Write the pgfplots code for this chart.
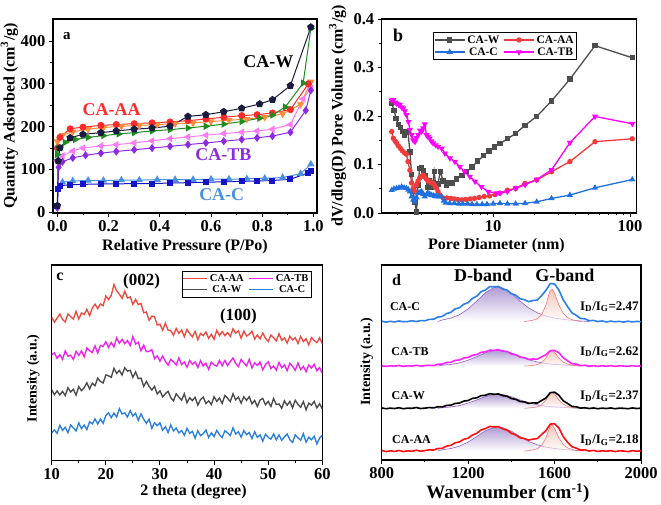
\documentclass[border=0pt]{standalone}
\usepackage{pgfplots}
\pgfplotsset{compat=1.18}
\usepackage{pgfplotstable}
\usepackage{fontspec}
\setmainfont{Liberation Serif}

\definecolor{awnavy}{HTML}{1B1B40}
\definecolor{awgreen}{HTML}{1E8C1E}
\definecolor{aared}{HTML}{FF2A2A}
\definecolor{aaorange}{HTML}{FF8C3C}
\definecolor{tbpurple}{HTML}{8B2BE2}
\definecolor{tbpink}{HTML}{FF7AF5}
\definecolor{cdblue}{HTML}{1515C8}
\definecolor{clblue}{HTML}{4A90E2}
\definecolor{bgray}{HTML}{4D4D4D}
\definecolor{bred}{HTML}{F03C3C}
\definecolor{bblue}{HTML}{2070E0}
\definecolor{bmag}{HTML}{FF00FF}
\definecolor{cred}{HTML}{F04A40}
\definecolor{cmag}{HTML}{F020F0}
\definecolor{cgray}{HTML}{4A4A4A}
\definecolor{cblue}{HTML}{2A7FE0}
\definecolor{dblue}{HTML}{2A7FE8}
\definecolor{dmag}{HTML}{FF20FF}
\definecolor{dred}{HTML}{FF1010}
\definecolor{dfit}{HTML}{9060C0}
\definecolor{dfill}{HTML}{7B5BB5}
\definecolor{gfit}{HTML}{F07878}
\definecolor{gfill}{HTML}{F0A090}

\newcommand{\ft}[1]{\fontsize{#1}{#1}\selectfont\bfseries}

\pgfplotsset{myax/.style={scale only axis, anchor=south west,
  axis line style={line width=1.1pt}, tick align=outside, tick pos=left,
  major tick length=4pt, minor tick length=2.5pt,
  tick style={black, line width=0.9pt},
  /pgf/number format/assume math mode=true,
  /pgf/number format/set thousands separator={},
  tick label style={font=\ft{16.5}},
  label style={font=\ft{16}}}}

\pgfplotstableread{
x r m g b
10.0 73.2 54.1 36.3 14.2
10.5 70.8 55.1 33.7 15.7
11.0 72.9 52.3 35.7 14.0
11.5 74.9 54.2 33.6 18.1
12.0 72.2 51.8 35.4 15.5
12.5 70.9 56.1 33.3 17.1
13.0 75.0 53.4 37.3 14.3
13.5 73.6 53.9 35.1 18.2
14.0 72.4 51.8 36.5 16.8
14.5 76.3 55.9 33.5 15.2
15.0 72.4 53.8 37.8 19.3
15.5 75.5 56.1 35.8 16.4
16.0 74.7 53.1 37.3 18.2
16.5 77.3 57.6 39.8 15.9
17.0 74.1 56.2 36.7 19.9
17.5 77.9 55.3 39.6 18.8
18.0 80.0 58.7 38.3 21.4
18.5 77.7 55.0 42.2 18.7
19.0 80.1 58.9 40.5 21.3
19.5 79.2 58.4 39.7 19.1
20.0 84.2 60.8 43.8 23.1
20.5 82.3 57.9 43.4 24.5
21.0 84.5 60.4 42.6 22.0
21.5 90.0 58.1 47.2 24.3
22.0 86.8 62.8 44.6 22.3
22.5 85.1 60.0 46.1 26.6
23.0 82.9 62.0 43.8 23.9
23.5 86.6 59.8 47.5 24.4
24.0 83.1 61.4 45.8 22.3
24.5 83.7 58.8 46.2 25.6
25.0 79.9 63.5 42.6 22.8
25.5 82.4 59.6 45.4 24.3
26.0 79.8 60.5 41.9 20.6
26.5 80.4 56.1 42.2 23.9
27.0 75.6 59.0 38.0 21.2
27.5 76.0 55.7 40.5 19.1
28.0 71.7 55.8 38.0 21.2
28.5 73.9 56.8 36.1 16.5
29.0 73.5 52.2 38.0 19.4
29.5 69.3 53.6 34.1 17.9
30.0 69.8 50.8 35.7 19.3
30.5 66.7 53.5 32.6 15.6
31.0 70.3 50.8 34.2 17.4
31.5 66.7 48.8 35.5 14.4
32.0 66.5 51.8 32.2 18.3
32.5 64.1 50.5 30.6 15.2
33.0 67.6 48.9 34.2 16.7
33.5 65.1 52.5 32.5 14.2
34.0 66.8 49.1 30.9 15.4
34.5 63.4 50.4 34.2 13.0
35.0 67.1 47.8 29.6 16.5
35.5 65.0 51.2 32.2 14.0
36.0 63.3 49.3 30.7 15.0
36.5 66.1 50.5 32.4 11.5
37.0 61.8 47.6 28.4 15.3
37.5 65.0 51.1 31.2 12.8
38.0 63.9 48.4 32.5 13.8
38.5 65.8 49.8 29.2 15.7
39.0 62.5 46.7 30.6 11.9
39.5 64.6 50.4 28.7 14.2
40.0 62.0 49.0 32.7 12.3
40.5 66.6 48.3 30.3 15.5
41.0 63.9 51.2 32.0 13.3
41.5 66.0 48.5 29.3 11.8
42.0 63.9 51.2 33.3 15.3
42.5 65.5 48.6 31.9 14.2
43.0 63.5 50.7 30.2 12.9
43.5 67.4 52.5 34.2 16.8
44.0 65.2 49.7 31.1 13.6
44.5 66.3 48.1 32.5 14.8
45.0 62.6 51.7 29.4 12.0
45.5 66.3 50.0 32.7 15.4
46.0 63.7 48.4 30.8 13.3
46.5 64.6 51.8 32.7 14.4
47.0 66.2 47.4 29.1 11.3
47.5 62.2 50.0 30.8 14.8
48.0 64.2 48.7 27.7 11.9
48.5 62.2 50.4 31.0 13.2
49.0 65.2 46.4 31.8 10.0
49.5 62.6 49.2 28.6 13.5
50.0 60.9 50.5 30.3 12.0
50.5 64.2 47.1 27.7 11.0
51.0 62.9 48.4 31.8 13.7
51.5 61.2 46.3 28.7 10.7
52.0 64.9 50.2 29.0 13.2
52.5 61.5 47.5 26.8 10.4
53.0 62.8 49.0 30.6 12.2
53.5 60.1 46.0 28.3 13.7
54.0 63.6 49.8 30.3 10.7
54.5 61.7 48.2 27.0 9.3
55.0 62.9 46.2 30.9 13.2
55.5 59.9 49.9 28.8 11.7
56.0 63.5 46.6 27.3 10.4
56.5 60.9 48.2 30.2 13.8
57.0 62.3 45.4 26.0 9.4
57.5 59.2 48.9 29.4 12.0
58.0 62.9 47.3 28.4 10.7
58.5 61.4 49.3 30.3 12.5
59.0 60.3 45.9 27.0 8.6
59.5 62.8 47.6 29.1 11.6
60.0 59.7 44.7 26.5 13.0
}\xrd

\pgfplotstableread{
x c tb w aa
800 71.2 48.4 26.7 4.9
820 70.7 48.0 26.3 4.3
840 71.1 48.3 26.6 4.7
860 70.8 48.1 26.4 4.4
880 71.3 48.5 26.8 4.9
900 70.9 48.0 26.3 4.3
920 71.0 48.3 26.6 4.7
940 71.4 48.2 26.5 4.5
960 71.0 48.6 26.9 5.0
980 71.5 48.1 26.4 4.5
1000 71.4 48.4 26.6 4.8
1020 72.1 48.6 26.9 5.2
1040 72.2 48.4 26.7 5.1
1060 73.3 49.1 27.3 5.9
1080 73.6 49.1 27.2 6.0
1100 75.1 50.0 28.0 7.1
1120 75.7 50.1 28.1 7.5
1140 77.5 51.1 29.0 8.8
1160 78.1 51.3 29.2 9.3
1180 79.9 52.3 30.2 10.6
1200 80.7 52.6 30.5 11.2
1220 82.9 53.7 31.6 12.8
1240 84.0 54.1 31.9 13.7
1260 86.3 55.2 33.0 15.4
1280 87.2 55.5 33.2 16.1
1300 88.9 56.3 34.0 17.2
1320 88.8 56.2 33.7 17.0
1340 89.0 56.6 33.9 17.1
1360 87.7 55.8 33.0 16.0
1380 87.1 55.6 32.7 15.3
1400 85.3 54.4 31.5 13.7
1420 84.5 54.0 31.1 12.9
1440 82.7 52.8 30.0 11.4
1460 82.2 52.5 29.8 11.0
1480 81.2 51.6 29.0 10.2
1500 81.8 51.8 29.3 10.7
1520 82.0 51.7 29.2 11.0
1540 84.3 52.9 30.5 13.0
1560 87.0 54.0 31.8 15.1
1580 90.5 56.1 34.5 18.4
1600 90.2 56.2 34.8 18.6
1620 87.2 55.0 33.2 16.4
1640 82.2 52.4 30.4 12.0
1660 78.7 50.9 29.0 9.1
1680 75.5 49.4 27.5 6.8
1700 74.2 49.2 27.3 6.1
1720 72.6 48.4 26.6 5.1
1740 72.4 48.6 26.8 5.2
1760 71.4 48.1 26.4 4.6
1780 71.6 48.4 26.7 4.9
1800 71.0 48.0 26.3 4.4
1820 71.3 48.3 26.6 4.7
1840 70.8 48.1 26.4 4.5
1860 71.2 48.4 26.7 4.8
1880 70.9 48.0 26.3 4.3
1900 71.1 48.3 26.6 4.7
1920 70.7 48.2 26.5 4.6
1940 71.2 48.0 26.3 4.3
1960 70.8 48.4 26.7 4.8
1980 71.1 48.1 26.4 4.5
2000 70.9 48.3 26.6 4.7
}\raman

\begin{document}
\begin{tikzpicture}
\useasboundingbox (0,0) rectangle (661pt,505pt);

% ---------------- panel a ----------------
\begin{axis}[myax, at={(53pt,292pt)}, width=264pt, height=194pt,
  xmin=-0.017, xmax=1.014, ymin=-2, ymax=452,
  xtick={0,0.2,0.4,0.6,0.8,1}, ytick={0,100,200,300,400},
  minor x tick num=1, minor y tick num=1,
  xticklabel style={/pgf/number format/fixed,/pgf/number format/fixed zerofill,/pgf/number format/precision=1},
  xlabel={Relative Pressure (P/Po)},
  ylabel={Quantity Adsorbed (cm\textsuperscript{3}/g)},
  xlabel style={at={(axis description cs:0.5,-0.175)}, anchor=center},
  ylabel style={at={(axis description cs:-0.165,0.5)}, anchor=center}]
\addplot[color=clblue, line width=1pt, mark=triangle*, mark size=3.3pt] coordinates {
(0.02,70)(0.06,73)(0.12,74)(0.18,74)(0.25,75)(0.32,75)(0.39,76)(0.46,76)(0.53,76)(0.6,77)(0.67,77)(0.74,78)(0.81,79)(0.88,81)(0.95,90)(0.99,112)};
\addplot[color=cdblue, line width=1pt, mark=square*, mark size=2.5pt] coordinates {
(0.0,15)(0.003,55)(0.01,62)(0.05,64)(0.1,65)(0.17,66)(0.23,66)(0.3,67)(0.37,67)(0.44,68)(0.51,69)(0.58,70)(0.65,71)(0.72,72)(0.78,73)(0.84,74)(0.91,77)(0.98,92)(0.99,97)};
\addplot[color=tbpink, line width=1pt, mark=triangle*, mark size=3.3pt, mark options={rotate=90}] coordinates {
(0.0,120)(0.02,132)(0.06,143)(0.1,150)(0.17,155)(0.23,158)(0.3,162)(0.37,167)(0.44,172)(0.51,176)(0.58,180)(0.65,184)(0.72,187)(0.78,190)(0.84,194)(0.91,205)(0.96,265)(0.99,290)};
\addplot[color=tbpurple, line width=1pt, mark=diamond*, mark size=3.3pt] coordinates {
(0.0,10)(0.005,105)(0.02,118)(0.06,127)(0.11,133)(0.17,138)(0.23,142)(0.3,146)(0.37,150)(0.44,154)(0.51,158)(0.58,162)(0.65,166)(0.72,170)(0.78,174)(0.84,178)(0.91,187)(0.97,238)(0.99,285)};
\addplot[color=aaorange, line width=1pt, mark=triangle*, mark size=3.3pt, mark options={rotate=180}] coordinates {
(0.0,165)(0.02,180)(0.06,188)(0.12,194)(0.18,198)(0.25,201)(0.32,203)(0.39,205)(0.46,207)(0.53,209)(0.6,212)(0.67,215)(0.74,218)(0.81,222)(0.88,230)(0.95,252)(0.99,305)};
\addplot[color=aared, line width=1pt, mark=*, mark size=3pt] coordinates {
(0.0,150)(0.01,175)(0.05,195)(0.1,199)(0.17,203)(0.23,205)(0.3,207)(0.37,209)(0.44,211)(0.51,214)(0.58,218)(0.65,222)(0.72,226)(0.78,228)(0.84,232)(0.91,240)(0.98,300)};
\addplot[color=awgreen, line width=1pt, mark=triangle*, mark size=3.3pt, mark options={rotate=-90}] coordinates {
(0.0,135)(0.005,150)(0.03,163)(0.07,170)(0.12,175)(0.18,179)(0.24,183)(0.3,186)(0.37,190)(0.44,193)(0.51,197)(0.58,201)(0.65,206)(0.72,212)(0.79,220)(0.84,227)(0.89,246)(0.96,302)(0.99,430)};
\addplot[color=awnavy, line width=1pt, mark=pentagon*, mark size=3.3pt] coordinates {
(0.0,15)(0.003,120)(0.01,150)(0.05,174)(0.1,182)(0.17,186)(0.23,190)(0.3,194)(0.37,197)(0.44,201)(0.51,224)(0.58,228)(0.65,235)(0.72,243)(0.79,253)(0.84,263)(0.91,296)(0.99,433)};
\node[font=\ft{15}] at (axis cs:0.037,411) {a};
\node[font=\ft{18}, text=black] at (axis cs:0.824,353) {CA-W};
\node[font=\ft{18}, text=aared] at (axis cs:0.212,240) {CA-AA};
\node[font=\ft{18}, text=tbpurple] at (axis cs:0.648,134) {CA-TB};
\node[font=\ft{18}, text=clblue] at (axis cs:0.642,40) {CA-C};
\end{axis}

% ---------------- panel b ----------------
\begin{axis}[myax, at={(381.7pt,292pt)}, width=255pt, height=194pt,
  xmode=log, xmin=1.53, xmax=112, ymin=0, ymax=0.4,
  xtick={10,100}, xticklabels={10,100},
  minor xtick={2,3,4,5,6,7,8,9,20,30,40,50,60,70,80,90},
  ytick={0,0.1,0.2,0.3,0.4}, minor y tick num=1,
  yticklabel style={/pgf/number format/fixed,/pgf/number format/fixed zerofill,/pgf/number format/precision=1},
  xlabel={Pore Diameter (nm)},
  ylabel={dV/dlog(D) Pore Volume (cm\textsuperscript{3}/g)},
  xlabel style={at={(axis description cs:0.45,-0.17)}, anchor=center},
  ylabel style={at={(axis description cs:-0.173,0.5)}, anchor=center},
  legend columns=2,
  legend style={at={(axis description cs:0.2,0.933)}, anchor=north west, draw=black, line width=0.8pt,
    font=\ft{11.5}, inner sep=1pt, row sep=-1pt,
    /tikz/every even column/.append style={column sep=2pt}},
  legend image code/.code={\draw[mark repeat=2,mark phase=2] plot coordinates {(0pt,0pt)(15pt,0pt)(30pt,0pt)};}]
\addplot[color=bgray, line width=1.3pt, mark=square*, mark size=2pt] coordinates {
(1.81,0.226)(1.88,0.212)(1.95,0.195)(2.02,0.183)(2.09,0.176)(2.16,0.168)(2.25,0.160)(2.32,0.167)(2.38,0.168)(2.46,0.126)(2.53,0.080)(2.60,0.045)(2.68,0.022)(2.75,0.002)(2.82,0.058)(2.90,0.092)(3.00,0.094)(3.10,0.088)(3.20,0.076)(3.30,0.052)(3.40,0.066)(3.50,0.052)(3.62,0.062)(3.70,0.085)(3.80,0.058)(3.95,0.060)(4.10,0.086)(4.30,0.066)(4.55,0.058)(4.75,0.062)(5.0,0.062)(5.4,0.070)(5.9,0.078)(6.4,0.085)(7.0,0.095)(7.7,0.107)(8.5,0.118)(9.3,0.128)(10.2,0.136)(11.2,0.143)(12.7,0.153)(14.6,0.164)(17.1,0.181)(20.8,0.199)(26.7,0.231)(36.4,0.276)(55.5,0.345)(104,0.320)};
\addlegendentry{CA-W}
\addplot[color=bred, line width=1.3pt, mark=*, mark size=2pt] coordinates {
(1.81,0.168)(1.86,0.154)(1.92,0.148)(1.97,0.144)(2.03,0.138)(2.10,0.133)(2.17,0.128)(2.25,0.124)(2.32,0.121)(2.38,0.106)(2.46,0.088)(2.53,0.062)(2.60,0.051)(2.68,0.044)(2.75,0.058)(2.82,0.066)(2.90,0.072)(3.00,0.076)(3.08,0.078)(3.16,0.074)(3.25,0.070)(3.34,0.066)(3.43,0.065)(3.53,0.062)(3.64,0.061)(3.75,0.056)(3.85,0.051)(3.95,0.044)(4.07,0.037)(4.3,0.031)(4.6,0.031)(4.9,0.030)(5.2,0.029)(5.5,0.028)(5.9,0.027)(6.3,0.028)(6.8,0.029)(7.3,0.030)(7.9,0.032)(8.6,0.034)(9.4,0.035)(10.3,0.038)(11.2,0.041)(12.7,0.047)(14.6,0.051)(17.1,0.061)(20.8,0.068)(26.7,0.085)(36.4,0.106)(55.5,0.147)(104,0.153)};
\addlegendentry{CA-AA}
\addplot[color=bblue, line width=1.3pt, mark=triangle*, mark size=2.3pt] coordinates {
(1.81,0.047)(1.88,0.050)(1.97,0.051)(2.05,0.052)(2.14,0.054)(2.23,0.052)(2.32,0.051)(2.40,0.048)(2.46,0.044)(2.53,0.034)(2.60,0.027)(2.68,0.023)(2.75,0.032)(2.83,0.041)(2.92,0.043)(3.00,0.044)(3.08,0.039)(3.16,0.034)(3.25,0.038)(3.33,0.041)(3.43,0.039)(3.53,0.037)(3.64,0.036)(3.75,0.035)(3.85,0.034)(4.0,0.034)(4.2,0.034)(4.35,0.025)(4.5,0.021)(4.8,0.020)(5.2,0.020)(5.6,0.019)(6.0,0.019)(6.5,0.019)(7.0,0.018)(7.6,0.018)(8.3,0.018)(9.0,0.018)(10.0,0.019)(11.2,0.020)(12.7,0.019)(14.6,0.019)(17.1,0.020)(20.8,0.023)(26.7,0.030)(36.4,0.037)(55.5,0.052)(104,0.069)};
\addlegendentry{CA-C}
\addplot[color=bmag, line width=1.3pt, mark=triangle*, mark size=2.3pt, mark options={rotate=180}] coordinates {
(1.81,0.232)(1.86,0.233)(1.92,0.228)(1.97,0.226)(2.03,0.224)(2.07,0.223)(2.14,0.218)(2.20,0.216)(2.26,0.210)(2.32,0.202)(2.40,0.188)(2.46,0.172)(2.53,0.161)(2.60,0.150)(2.68,0.147)(2.75,0.155)(2.83,0.161)(2.92,0.170)(3.00,0.168)(3.08,0.175)(3.16,0.183)(3.25,0.161)(3.34,0.157)(3.43,0.154)(3.53,0.148)(3.64,0.144)(3.80,0.140)(3.95,0.137)(4.2,0.133)(4.43,0.123)(4.82,0.113)(5.24,0.106)(5.7,0.095)(6.2,0.085)(6.75,0.075)(7.35,0.065)(8.2,0.054)(9.2,0.044)(10.6,0.041)(11.2,0.041)(12.7,0.044)(14.6,0.051)(17.1,0.058)(20.8,0.069)(26.7,0.089)(36.4,0.145)(55.5,0.199)(104,0.184)};
\addlegendentry{CA-TB}
\node[font=\ft{18}] at (axis cs:2.02,0.367) {b};
\end{axis}

% ---------------- panel c ----------------
\begin{axis}[myax, at={(51.7pt,44.3pt)}, width=270.6pt, height=195.7pt,
  xmin=10, xmax=60, ymin=0, ymax=100,
  xtick={10,20,30,40,50,60}, minor x tick num=1, ytick=\empty,
  xlabel={2 theta (degree)}, ylabel={Intensity (a.u.)},
  xlabel style={font=\ft{16}, at={(axis description cs:0.524,-0.16)}, anchor=center},
  ylabel style={font=\ft{14}, at={(axis description cs:-0.068,0.42)}, anchor=center},
  legend columns=2,
  legend style={at={(axis description cs:0.48,0.97)}, anchor=north west, draw=black, line width=0.8pt,
    font=\ft{10.5}, inner sep=1pt, row sep=-1pt,
    /tikz/every even column/.append style={column sep=3pt}},
  legend image code/.code={\draw[line width=1pt] (0pt,0pt) -- (24pt,0pt);}]
\addplot[color=cred, line width=1.35pt] table[x=x, y=r] {\xrd};
\addlegendentry{CA-AA}
\addplot[color=cmag, line width=1.35pt] table[x=x, y=m] {\xrd};
\addlegendentry{CA-TB}
\addplot[color=cgray, line width=1.35pt] table[x=x, y=g] {\xrd};
\addlegendentry{CA-W}
\addplot[color=cblue, line width=1.35pt] table[x=x, y=b] {\xrd};
\addlegendentry{CA-C}
\node[font=\ft{16}] at (axis cs:11.5,94) {c};
\node[font=\ft{17}] at (axis cs:26.6,91.5) {(002)};
\node[font=\ft{17}] at (axis cs:44.5,73.6) {(100)};
\end{axis}

% ---------------- panel d ----------------
\begin{axis}[myax, at={(381.7pt,45pt)}, width=259.3pt, height=195pt,
  xmin=800, xmax=2000, ymin=0, ymax=100,
  xtick={800,1200,1600,2000}, minor x tick num=1, ytick=\empty,
  xlabel={Wavenumber (cm\textsuperscript{-1})}, ylabel={Intensity (a.u.)},
  xlabel style={font=\ft{19}, at={(axis description cs:0.487,-0.17)}, anchor=center},
  ylabel style={font=\ft{14}, at={(axis description cs:-0.058,0.504)}, anchor=center}]
% fitted D bands
\addplot[draw=dfit, line width=0.6pt, top color=dfill, bottom color=white, fill opacity=0.6] coordinates {
(1060,71)(1080,71.8)(1120,72.8)(1160,74.5)(1200,77.5)(1240,81.5)(1280,85.8)(1320,88.4)(1340,88.6)(1360,88.2)(1400,85.5)(1440,81.5)(1480,78.0)(1520,75.5)(1560,73.8)(1600,72.8)(1640,72.1)(1680,71.6)(1720,71.3)(1760,71)};
\addplot[draw=gfit, line width=0.6pt, top color=gfill, bottom color=white, fill opacity=0.6] coordinates {
(1460,71)(1480,71.3)(1500,71.7)(1520,72.5)(1540,74.5)(1560,79.5)(1570,83.5)(1580,87.0)(1590,87.5)(1600,85.5)(1620,79.5)(1640,75.2)(1660,73.0)(1680,72.0)(1700,71.4)(1720,71)};
\addplot[draw=dfit, line width=0.6pt, top color=dfill, bottom color=white, fill opacity=0.6] coordinates {
(1060,48.2)(1080,48.6)(1120,49.0)(1160,49.8)(1200,51.2)(1240,53.0)(1280,55.0)(1320,56.2)(1340,56.3)(1360,56.1)(1400,54.9)(1440,53.0)(1480,51.4)(1520,50.3)(1560,49.5)(1600,49.0)(1640,48.7)(1680,48.5)(1720,48.3)(1760,48.2)};
\addplot[draw=gfit, line width=0.6pt, top color=gfill, bottom color=white, fill opacity=0.6] coordinates {
(1460,48.2)(1480,48.3)(1500,48.5)(1520,48.9)(1540,49.9)(1560,52.3)(1570,54.2)(1580,55.9)(1590,56.1)(1600,55.2)(1620,52.3)(1640,50.2)(1660,49.2)(1680,48.7)(1700,48.4)(1720,48.2)};
\addplot[draw=dfit, line width=0.6pt, top color=dfill, bottom color=white, fill opacity=0.6] coordinates {
(1060,26.5)(1080,26.8)(1120,27.2)(1160,27.9)(1200,29.2)(1240,30.8)(1280,32.6)(1320,33.6)(1340,33.7)(1360,33.6)(1400,32.4)(1440,30.8)(1480,29.4)(1520,28.3)(1560,27.6)(1600,27.2)(1640,27.0)(1680,26.7)(1720,26.6)(1760,26.5)};
\addplot[draw=gfit, line width=0.6pt, top color=gfill, bottom color=white, fill opacity=0.6] coordinates {
(1460,26.5)(1480,26.7)(1500,26.9)(1520,27.3)(1540,28.3)(1560,30.8)(1570,32.8)(1580,34.5)(1590,34.8)(1600,33.8)(1620,30.8)(1640,28.6)(1660,27.5)(1680,27.0)(1700,26.7)(1720,26.5)};
\addplot[draw=dfit, line width=0.6pt, top color=dfill, bottom color=white, fill opacity=0.6] coordinates {
(1060,4.6)(1080,5.2)(1120,5.9)(1160,7.1)(1200,9.2)(1240,12.0)(1280,15.0)(1320,16.8)(1340,16.9)(1360,16.6)(1400,14.8)(1440,12.0)(1480,9.5)(1520,7.8)(1560,6.6)(1600,5.9)(1640,5.4)(1680,5.0)(1720,4.8)(1760,4.6)};
\addplot[draw=gfit, line width=0.6pt, top color=gfill, bottom color=white, fill opacity=0.6] coordinates {
(1460,4.6)(1480,4.8)(1500,5.2)(1520,5.8)(1540,7.4)(1560,11.4)(1570,14.6)(1580,17.4)(1590,17.8)(1600,16.2)(1620,11.4)(1640,8.0)(1660,6.2)(1680,5.4)(1700,4.9)(1720,4.6)};
% spectra
\addplot[color=dblue, line width=1.6pt] table[x=x, y=c] {\raman};
\addplot[color=dmag, line width=1.6pt] table[x=x, y=tb] {\raman};
\addplot[color=black, line width=1.6pt] table[x=x, y=w] {\raman};
\addplot[color=dred, line width=1.6pt] table[x=x, y=aa] {\raman};
\node[font=\ft{16}] at (axis cs:869,92.3) {d};
\node[font=\ft{18}] at (axis cs:1269,94.9) {D-band};
\node[font=\ft{18}] at (axis cs:1648,94.9) {G-band};
\node[font=\ft{12}] at (axis cs:908,78.6) {CA-C};
\node[font=\ft{12}] at (axis cs:931,55.5) {CA-TB};
\node[font=\ft{12}] at (axis cs:923,32.8) {CA-W};
\node[font=\ft{12}] at (axis cs:938,10.3) {CA-AA};
\node[font=\ft{13}, anchor=east, inner sep=1pt] at (axis cs:1995,78.6) {I\textsubscript{D}/I\textsubscript{G}=2.47};
\node[font=\ft{13}, anchor=east, inner sep=1pt] at (axis cs:1995,55.5) {I\textsubscript{D}/I\textsubscript{G}=2.62};
\node[font=\ft{13}, anchor=east, inner sep=1pt] at (axis cs:1995,32.8) {I\textsubscript{D}/I\textsubscript{G}=2.37};
\node[font=\ft{13}, anchor=east, inner sep=1pt] at (axis cs:1995,10.3) {I\textsubscript{D}/I\textsubscript{G}=2.18};
\end{axis}
\end{tikzpicture}
\end{document}
